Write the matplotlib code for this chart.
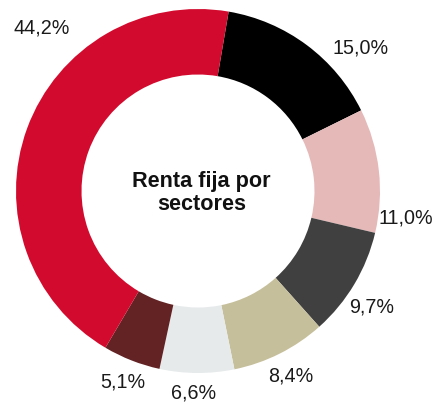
import numpy as np
import matplotlib
matplotlib.use("Agg")
import matplotlib.pyplot as plt

plt.rcParams['font.family'] = ['Liberation Sans', 'DejaVu Sans']

# sectores (clockwise from the top)
shares = [15.0, 11.0, 9.7, 8.4, 6.6, 5.1, 44.2]
labels = ["15,0%", "11,0%", "9,7%", "8,4%", "6,6%", "5,1%", "44,2%"]
colors = ["#000000", "#E6B9B9", "#404040", "#C6BF9B", "#E7EAEB", "#632224", "#D20B2E"]

# label placement tweaks (angle shift in degrees, distance in radii)
label_shift = [-12, -14, -3, 0, -1, 0, -26]
label_dist = [1.19, 1.15, 1.15, 1.14, 1.11, 1.13, 1.24]

start = 80.3
R = 182.0  # px

fig = plt.figure(figsize=(4.33, 4.05), dpi=100)
ax = fig.add_axes([0, 0, 1, 1])

wedges, _ = ax.pie(shares, colors=colors, startangle=start, counterclock=False,
                   radius=1.0, wedgeprops=dict(width=0.36, linewidth=0))

for w, lab, sh, d in zip(wedges, labels, label_shift, label_dist):
    mid = np.deg2rad((w.theta1 + w.theta2) / 2 + sh)
    ax.text(d * np.cos(mid), d * np.sin(mid), lab, ha="center", va="center",
            fontsize=14.2, color="#1a1a1a")

ax.text(0.02, -0.01, "Renta fija por\nsectores", ha="center", va="center",
        fontsize=15.6, fontweight="bold", color="#111111", linespacing=1.15)

ax.set_xlim(-198 / R, (433 - 198) / R)
ax.set_ylim(-(405 - 191) / R, 191 / R)
ax.set_aspect("equal")
ax.axis("off")

fig.savefig("out.png", dpi=100)
